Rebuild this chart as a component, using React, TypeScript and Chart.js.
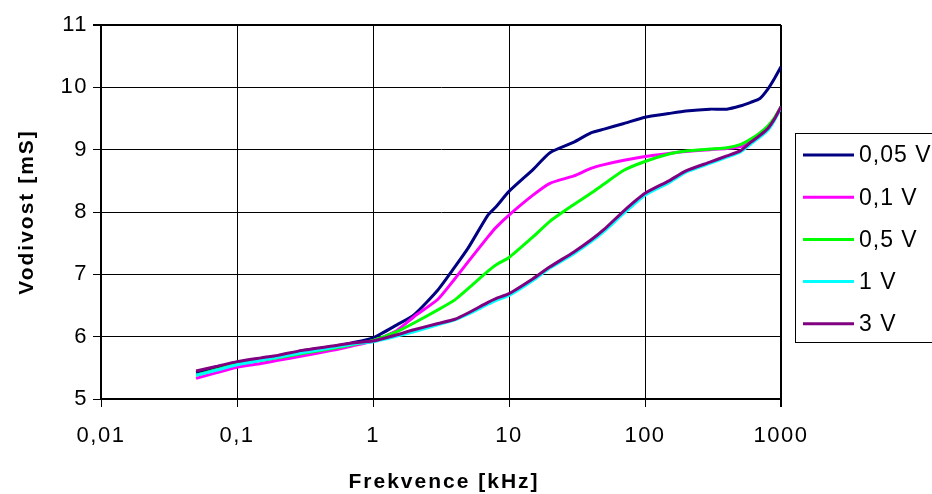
import React, { useEffect, useRef } from 'react';
import { Chart, registerables } from 'chart.js';

Chart.register(...registerables);

// Frequencies in kHz (shared by all series)
const frequencies = [0.05, 0.07, 0.1, 0.15, 0.2, 0.3, 0.5, 0.7, 1, 1.5, 2, 3, 4, 5, 7, 8, 10, 15, 20, 30, 40, 50, 70, 100, 150, 200, 300, 400, 500, 600, 700, 800, 900, 1000];

// Conductance [mS] per amplitude
const v005 = [5.42, 5.5, 5.58, 5.65, 5.69, 5.77, 5.84, 5.9, 5.98, 6.19, 6.35, 6.75, 7.12, 7.42, 7.95, 8.08, 8.33, 8.68, 8.95, 9.12, 9.27, 9.33, 9.42, 9.52, 9.58, 9.62, 9.65, 9.65, 9.7, 9.76, 9.82, 9.97, 10.15, 10.33];
const v01 = [5.33, 5.42, 5.51, 5.57, 5.62, 5.69, 5.78, 5.85, 5.93, 6.1, 6.32, 6.6, 6.93, 7.2, 7.6, 7.75, 7.95, 8.27, 8.46, 8.58, 8.7, 8.76, 8.83, 8.89, 8.94, 8.97, 9.0, 9.02, 9.05, 9.13, 9.22, 9.33, 9.5, 9.68];
const v05 = [5.38, 5.47, 5.56, 5.62, 5.66, 5.73, 5.81, 5.87, 5.94, 6.08, 6.22, 6.43, 6.59, 6.77, 7.05, 7.15, 7.27, 7.6, 7.85, 8.12, 8.3, 8.45, 8.67, 8.81, 8.93, 8.98, 9.01, 9.03, 9.08, 9.17, 9.27, 9.38, 9.52, 9.69];
const v1 = [5.38, 5.46, 5.55, 5.62, 5.67, 5.74, 5.82, 5.88, 5.92, 6.01, 6.08, 6.19, 6.27, 6.36, 6.52, 6.58, 6.66, 6.9, 7.1, 7.33, 7.52, 7.69, 7.98, 8.27, 8.47, 8.64, 8.78, 8.88, 8.96, 9.09, 9.2, 9.31, 9.48, 9.68];
const v3 = [5.45, 5.52, 5.6, 5.66, 5.7, 5.78, 5.85, 5.9, 5.93, 6.03, 6.11, 6.21, 6.28, 6.38, 6.55, 6.61, 6.69, 6.93, 7.12, 7.36, 7.55, 7.72, 8.02, 8.3, 8.5, 8.66, 8.8, 8.9, 8.98, 9.12, 9.23, 9.34, 9.5, 9.69];

const seriesLabels = ['0,05 V', '0,1 V', '0,5 V', '1 V', '3 V'];
const seriesColors = ['#000080', '#FF00FF', '#00FF00', '#00FFFF', '#800080'];
const seriesValues = [v005, v01, v05, v1, v3];

const xTickValues = [0.01, 0.1, 1, 10, 100, 1000];
const xTickLabels = ['0,01', '0,1', '1', '10', '100', '1000'];
const yMin = 5;
const yMax = 11;

const xTitle = 'Frekvence [kHz]';
const yTitle = 'Vodivost [mS]';

const FONT = '"Liberation Sans", Arial, sans-serif';

const decorPlugin = {
  id: 'decor',
  beforeDraw(chart: any) {
    (chart.ctx as any).letterSpacing = '1.5px';
  },
  afterDraw(chart: any) {
    const ctx = chart.ctx;
    ctx.save();
    // axis titles
    ctx.fillStyle = '#000';
    ctx.font = `bold 21px ${FONT}`;
    (ctx as any).letterSpacing = '2px';
    ctx.textAlign = 'center';
    ctx.textBaseline = 'middle';
    ctx.fillText(xTitle, 444, 482);
    ctx.save();
    ctx.translate(27, 212);
    ctx.rotate(-Math.PI / 2);
    ctx.fillText(yTitle, 0, 0);
    ctx.restore();

    // legend box
    ctx.strokeStyle = '#000';
    ctx.lineWidth = 1;
    ctx.strokeRect(795.5, 133.5, 200, 209);
    ctx.font = `23px ${FONT}`;
    (ctx as any).letterSpacing = '1px';
    ctx.textAlign = 'left';
    chart.data.datasets.forEach((ds: any, i: number) => {
      const y = 155 + i * 42.2;
      ctx.strokeStyle = ds.borderColor;
      ctx.lineWidth = 3;
      ctx.beginPath();
      ctx.moveTo(803, y);
      ctx.lineTo(854, y);
      ctx.stroke();
      ctx.fillStyle = '#000';
      ctx.fillText(ds.label, 859, y + 1);
    });
    ctx.restore();
  },
};

export default function App() {
  const ref = useRef<HTMLCanvasElement>(null);

  useEffect(() => {
    if (!ref.current) return;
    const datasets = seriesLabels.map((label, i) => ({
      label,
      data: frequencies.map((f, j) => ({ x: f, y: seriesValues[i][j] })),
      borderColor: seriesColors[i],
      backgroundColor: seriesColors[i],
      borderWidth: 3,
      pointRadius: 0,
      tension: 0.2,
      fill: false,
      order: seriesLabels.length - 1 - i,
    }));

    const chart = new Chart(ref.current, {
      type: 'line',
      data: { datasets },
      plugins: [decorPlugin],
      options: {
        animation: false,
        responsive: false,
        devicePixelRatio: 1,
        layout: { padding: { left: 0, right: 151, top: 25, bottom: 0 } },
        plugins: { legend: { display: false }, tooltip: { enabled: false } },
        font: { family: FONT },
        scales: {
          x: {
            type: 'logarithmic',
            min: xTickValues[0],
            max: xTickValues[xTickValues.length - 1],
            afterBuildTicks: (scale: any) => {
              scale.ticks = xTickValues.map((v) => ({ value: v }));
            },
            afterFit: (scale: any) => {
              scale.height = 95;
            },
            ticks: {
              autoSkip: false,
              maxRotation: 0,
              padding: 16,
              color: '#000',
              font: { size: 22, family: FONT },
              callback: (v: any) => {
                const idx = xTickValues.findIndex((t) => Math.abs(t - Number(v)) < 1e-9);
                return idx >= 0 ? xTickLabels[idx] : '';
              },
            },
            grid: {
              color: '#000',
              lineWidth: (c: any) => (c.tick && c.tick.value === 1000 ? 2 : 1),
              tickLength: 8,
              tickColor: '#000',
            },
            border: { color: '#000', width: 2 },
          },
          y: {
            type: 'linear',
            min: yMin,
            max: yMax,
            afterFit: (scale: any) => {
              scale.width = 101;
            },
            ticks: {
              stepSize: 1,
              padding: 5,
              color: '#000',
              font: { size: 22, family: FONT },
            },
            grid: {
              color: '#000',
              lineWidth: (c: any) => (c.tick && c.tick.value === 11 ? 2 : 1),
              tickLength: 8,
              tickColor: '#000',
            },
            border: { color: '#000', width: 2 },
          },
        },
      },
    });
    return () => chart.destroy();
  }, []);

  return (
    <div style={{ position: 'fixed', left: 0, top: 0, width: 932, height: 494, background: '#fff' }}>
      <canvas ref={ref} width={932} height={494} style={{ width: 932, height: 494, display: 'block' }} />
    </div>
  );
}
